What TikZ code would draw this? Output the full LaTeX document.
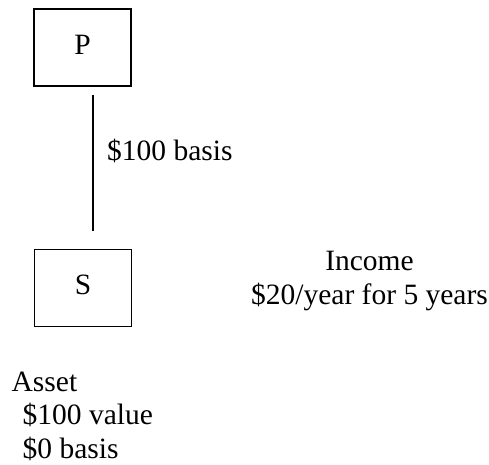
\documentclass[tikz,border=0pt]{standalone}
\usepackage{fontspec}
\setmainfont{Liberation Serif}
\begin{document}
\begin{tikzpicture}[x=1pt,y=-1pt,
  entity/.style={draw, line width=1.4pt, minimum width=97pt, minimum height=77pt,
    inner sep=0pt, text height=20pt, text depth=6.5pt},
  label/.style={inner sep=0pt},
  link/.style={line width=1.4pt},
  every node/.style={font=\fontsize{29.5}{33.5}\selectfont}]
  \useasboundingbox (0,0) rectangle (489,464);
  % corporations
  \node[entity] (P) at (82.5,47.5) {P};
  \node[entity] (S) at (83,287.7) {S};
  % ownership link with parent's basis
  \coordinate (top) at (93,95);
  \coordinate (bot) at (93,230.5);
  \draw[link] (top) -- (bot);
  \node[label, anchor=base west] (basis) at (107,160.7) {\$100 basis};
  % income stream (anchored on the baseline of its last line)
  \node[label, anchor=base, align=center] (income) at (369.5,304) {Income\\\$20/year for 5 years};
  % asset held by S (anchored on the baseline of its last line)
  \node[label, anchor=base west, align=left] (asset) at (11.5,458) {Asset\\\hspace{11pt}\$100 value\\\hspace{11pt}\$0 basis};
\end{tikzpicture}
\end{document}
